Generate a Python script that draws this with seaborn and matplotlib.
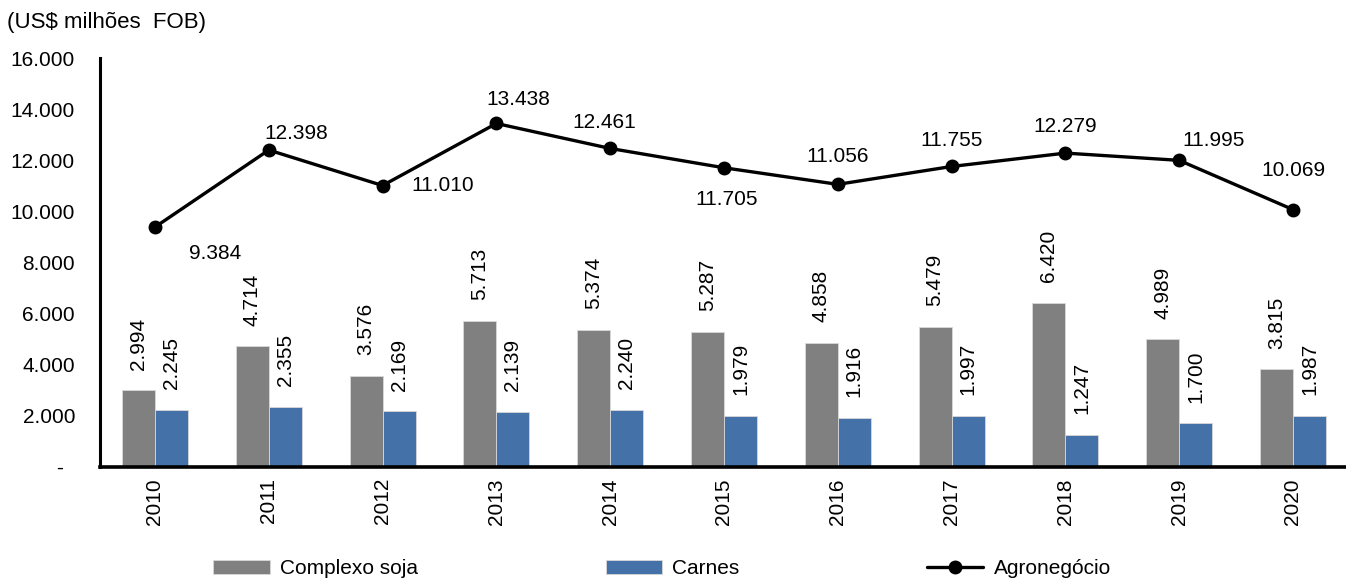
import numpy as np
import pandas as pd
from matplotlib import pyplot as plt
from matplotlib.ticker import FuncFormatter
import seaborn as sns

years = ["2010", "2011", "2012", "2013", "2014", "2015", "2016", "2017", "2018", "2019", "2020"]
soja = [2994, 4714, 3576, 5713, 5374, 5287, 4858, 5479, 6420, 4989, 3815]
carnes = [2245, 2355, 2169, 2139, 2240, 1979, 1916, 1997, 1247, 1700, 1987]
agro = [9384, 12398, 11010, 13438, 12461, 11705, 11056, 11755, 12279, 11995, 10069]

# label offsets (points) for line values
line_offsets = [(43, -19), (20, 12), (43, 0), (16, 17), (-4, 19), (2, -23),
                (0, 20), (0, 19), (0, 19), (25, 14), (0, 28)]

sns.set_style("white")
plt.rcParams['font.family'] = ['Liberation Sans', 'DejaVu Sans']
plt.rcParams['text.color'] = 'black'
plt.rcParams['xtick.color'] = 'black'
plt.rcParams['ytick.color'] = 'black'

FS = 15

def fmt(v):
    return f"{v:,.0f}".replace(",", ".")

df = pd.DataFrame({
    "ano": years * 2,
    "valor": soja + carnes,
    "serie": ["Complexo soja"] * len(years) + ["Carnes"] * len(years),
})

fig = plt.figure(figsize=(13.46, 5.8), dpi=100)
ax = fig.add_axes([100 / 1346, 0.195, 1246 / 1346, 0.705])

sns.barplot(data=df, x="ano", y="valor", hue="serie", ax=ax,
            palette=["#808080", "#4472A8"], saturation=1, width=0.58,
            edgecolor="#d9d9d9", linewidth=0.6, legend=True)

x = np.arange(len(years))
ax.plot(x, agro, color="black", linewidth=2.4, marker="o", markersize=9,
        label="Agronegócio")

# bar labels
for cont in ax.containers:
    for bar in cont:
        h = bar.get_height()
        ax.annotate(fmt(h), (bar.get_x() + bar.get_width() / 2, h),
                    xytext=(0, 15), textcoords="offset points",
                    rotation=90, ha="center", va="bottom", fontsize=FS)

# line labels
for xi, v, off in zip(x, agro, line_offsets):
    ax.annotate(fmt(v), (xi, v), xytext=off, textcoords="offset points",
                ha="center", va="center", fontsize=FS)

ax.set_ylim(0, 16000)
ax.set_xlim(-0.483, 10.466)
ax.set_yticks(range(0, 16001, 2000))
ax.yaxis.set_major_formatter(FuncFormatter(lambda v, p: "-  " if v == 0 else fmt(v)))
ax.set_xlabel("")
ax.set_ylabel("")
ax.tick_params(axis="y", labelsize=FS, length=0, pad=18)
ax.tick_params(axis="x", labelsize=FS, length=0, rotation=90, pad=8)

for s in ["top", "right"]:
    ax.spines[s].set_visible(False)
ax.spines["left"].set_linewidth(2.2)
ax.spines["bottom"].set_linewidth(2.6)
ax.spines["left"].set_color("black")
ax.spines["bottom"].set_color("black")

fig.text(0.005, 0.962, "(US$ milhões  FOB)", fontsize=16, ha="left", va="center")

handles, labels = ax.get_legend_handles_labels()
order = [labels.index("Complexo soja"), labels.index("Carnes"), labels.index("Agronegócio")]
ax.get_legend().remove()
fig.legend([handles[i] for i in order], [labels[i] for i in order],
           loc="center", bbox_to_anchor=(0.492, 0.019), ncol=3, frameon=False,
           fontsize=FS, handlelength=2.7, handleheight=0.7, columnspacing=9.0,
           handletextpad=0.5, borderpad=0)
ax.set_zorder(2)

plt.savefig("out.png", dpi=100)
